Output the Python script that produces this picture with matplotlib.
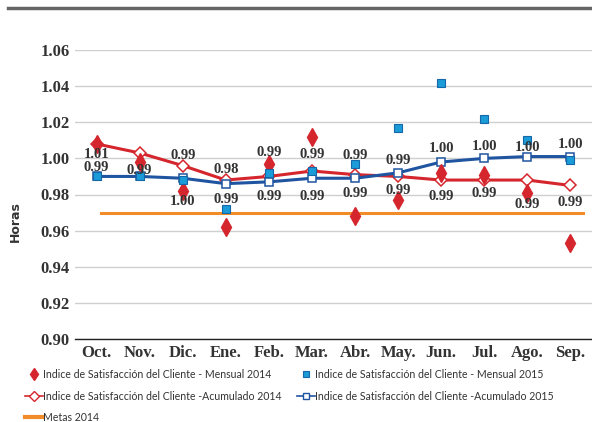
import matplotlib
matplotlib.use("Agg")
import matplotlib.pyplot as plt
from matplotlib.lines import Line2D

# --- datos ---
meses = ["Oct.", "Nov.", "Dic.", "Ene.", "Feb.", "Mar.", "Abr.", "May.", "Jun.", "Jul.", "Ago.", "Sep."]
mensual_2014 = [1.008, 0.998, 0.982, 0.962, 0.997, 1.012, 0.968, 0.977, 0.992, 0.991, 0.981, 0.953]
acum_2014 = [1.008, 1.003, 0.996, 0.988, 0.990, 0.993, 0.991, 0.990, 0.988, 0.988, 0.988, 0.985]
mensual_2015 = [0.990, 0.990, 0.988, 0.972, 0.992, 0.993, 0.997, 1.017, 1.042, 1.022, 1.010, 0.999]
acum_2015 = [0.990, 0.990, 0.989, 0.986, 0.987, 0.989, 0.989, 0.992, 0.998, 1.000, 1.001, 1.001]
metas_2014 = [0.97, 0.97]

etiquetas_2014 = ["1.01", "", "0.99", "0.98", "0.99", "0.99", "0.99", "0.99", "0.99", "0.99", "0.99", "0.99"]
etiquetas_2015 = ["0.99", "0.99", "1.00", "0.99", "0.99", "0.99", "0.99", "0.99", "1.00", "1.00", "1.00", "1.00"]

# desplazamiento vertical de las etiquetas (px, positivo = abajo)
desp_2014 = [11, 0, -10, -11, -24, -17, 19, 14, 16, 13, 24, 17]
desp_2015 = [-9, -6, 23, 16, 15, 18, -23, -12, -13, -12, -9, -12]

ROJO = "#d5262e"
AZUL = "#1f55a0"
AZUL_CLARO = "#1b9bd7"
NARANJA = "#f28c28"
TEXTO = "#333333"
SERIF = "Liberation Serif"

fig = plt.figure(figsize=(5.92, 4.22), dpi=100)
ax = fig.add_axes([75 / 592, (422 - 339) / 422, 1 - 75 / 592, (339 - 50) / 422])

x = list(range(len(meses)))

ax.plot([0.1, 11.28], metas_2014, color=NARANJA, lw=2.2, zorder=2)
ax.plot(x, acum_2014, color=ROJO, lw=2.2, marker="D", ms=6.5, mfc="white",
        mec=ROJO, mew=1.1, zorder=3)
ax.plot(x, acum_2015, color=AZUL, lw=2.2, marker="s", ms=6, mfc="white",
        mec=AZUL, mew=1.1, zorder=3)
ax.plot(x, mensual_2014, ls="none", marker="d", ms=9, color=ROJO, zorder=4)
ax.plot(x, mensual_2015, ls="none", marker="s", ms=6, mfc=AZUL_CLARO,
        mec="#1467a8", mew=0.8, zorder=4)

for i in x:
    if etiquetas_2014[i]:
        ax.annotate(etiquetas_2014[i], (i, acum_2014[i]), xytext=(0, -desp_2014[i] * 0.72),
                    textcoords="offset points", ha="center", va="center",
                    fontsize=10.5, fontweight="bold", family=SERIF,
                    color=TEXTO, zorder=5)
    ax.annotate(etiquetas_2015[i], (i, acum_2015[i]), xytext=(0, -desp_2015[i] * 0.72),
                textcoords="offset points", ha="center", va="center",
                fontsize=10.5, fontweight="bold", family=SERIF,
                color=TEXTO, zorder=5)

ax.set_xlim(-0.5, 11.5)
ax.set_ylim(0.90, 1.06)
ax.set_yticks([0.90, 0.92, 0.94, 0.96, 0.98, 1.00, 1.02, 1.04, 1.06])
ax.set_yticklabels([f"{v:.2f}" for v in ax.get_yticks()])
ax.set_xticks(x)
ax.set_xticklabels(meses)
ax.tick_params(length=0, labelcolor=TEXTO, pad=4)
for lab in ax.get_xticklabels() + ax.get_yticklabels():
    lab.set_fontweight("bold")
    lab.set_family(SERIF)
    lab.set_fontsize(12)
ax.grid(axis="y", color="#cfcfcf", lw=1)
ax.set_axisbelow(True)
for s in ax.spines.values():
    s.set_visible(False)
ax.spines["bottom"].set_visible(True)
ax.spines["bottom"].set_color("#222222")
ax.spines["bottom"].set_linewidth(1)

fig.text(15 / 592, 1 - 222 / 422, "Horas", rotation=90, ha="center", va="center",
         fontsize=9, fontweight="bold", family="DejaVu Sans", color=TEXTO)

# linea superior
fig.add_artist(Line2D([8 / 592, 1], [1 - 8 / 422] * 2, color="#666666", lw=2.5))

handles = [
    Line2D([], [], ls="none", marker="d", ms=6, color=ROJO),
    Line2D([], [], color=ROJO, lw=1.2, marker="D", ms=5, mfc="white", mec=ROJO),
    Line2D([], [], color=NARANJA, lw=3),
    Line2D([], [], ls="none", marker="s", ms=5, mfc=AZUL_CLARO, mec="#1467a8", mew=0.8),
    Line2D([], [], color=AZUL, lw=1.2, marker="s", ms=5, mfc="white", mec=AZUL),
]
labels = [
    "Indice de Satisfacción del Cliente - Mensual 2014",
    "Indice de Satisfacción del Cliente -Acumulado 2014",
    "Metas 2014",
    "Indice de Satisfacción del Cliente - Mensual 2015",
    "Indice de Satisfacción del Cliente -Acumulado 2015",
]
fig.legend(handles, labels, ncol=2, loc="upper left", bbox_to_anchor=(25 / 592, 1 - 369 / 422),
           frameon=False, handlelength=1.7, handletextpad=0.05,
           columnspacing=1.4, labelspacing=1.0, borderaxespad=0, borderpad=0,
           labelcolor=TEXTO, prop={"family": "Lato", "size": 7.6})

fig.savefig("out.png", dpi=100)
